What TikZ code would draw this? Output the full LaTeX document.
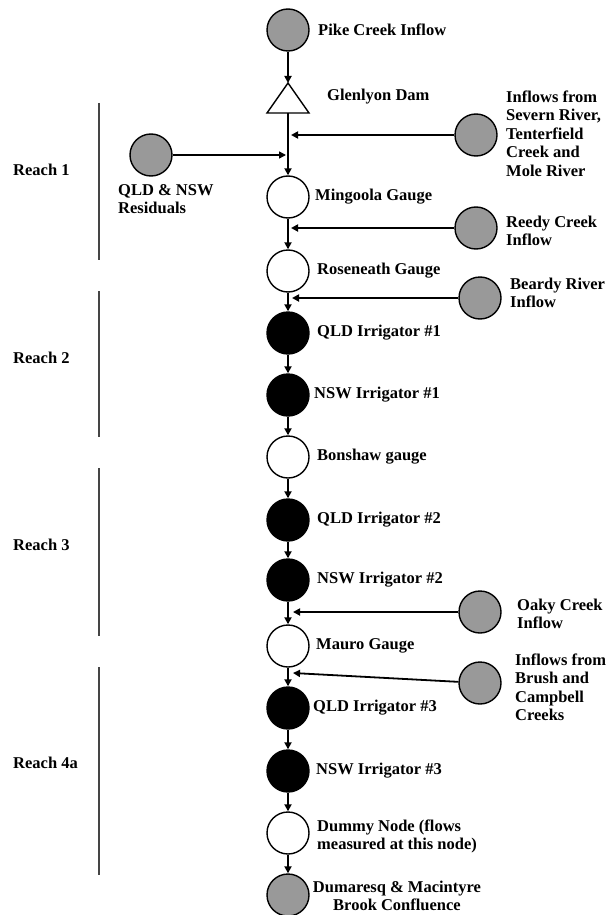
\documentclass[tikz,border=0pt]{standalone}
\usepackage{fontspec}
\setmainfont{Liberation Serif}
\usetikzlibrary{arrows.meta}
\definecolor{srcgray}{HTML}{999999}
\definecolor{reachgray}{HTML}{454545}

\begin{document}
\begin{tikzpicture}[x=1pt,y=-1pt,font=\bfseries\fontsize{16.5}{18.5}\selectfont,
  >={Triangle[length=7pt,width=7pt]},
  stn/.style={circle,draw,line width=1.4pt,minimum size=42pt,inner sep=0pt},
  flow/.style={->,line width=2pt},
  side/.style={->,line width=1.8pt},
  lab/.style={anchor=west,align=left,inner sep=0pt},
  reach/.style={reachgray,line width=1.6pt}]

\useasboundingbox (0,0) rectangle (608,915);

% ---- reaches (left bars) ----
\foreach \i/\ya/\yb/\yy/\txt in {1/103/260/170/Reach 1,2/291/437/358/Reach 2,
                                 3/468/636/545/Reach 3,4a/667/875/763/Reach 4a}{
  \draw[reach] (99,\ya) -- (99,\yb);
  \node[lab] (reach\i) at (13,\yy) {\txt};
}

% ---- top of the stem: Pike Creek and the dam ----
\node[stn,fill=srcgray] (pike) at (288,30) {};
\node[lab] (pike-lab) at (318,30) {Pike Creek Inflow};
\coordinate (glen-top) at (288,83);
\coordinate (glen-base) at (288,113);
\draw[line width=1.4pt,fill=white] (glen-top) -- (309,113) -- (267,113) -- cycle;
\node[lab] (glen-lab) at (327,97) {Glenlyon Dam};

% ---- main stem: gauges, irrigators, end node ----
\foreach \nm/\yy/\col in {mingoola/197/white,roseneath/271/white,qldi1/333/black,
    nswi1/395/black,bonshaw/457/white,qldi2/520/black,nswi2/580/black,
    mauro/646/white,qldi3/708/black,nswi3/771/black,dummy/833/white,dumaresq/895/srcgray}
  \node[stn,fill=\col] (\nm) at (288,\yy) {};

\foreach \nm/\xx/\yy/\txt in {mingoola/315/197/Mingoola Gauge,roseneath/317/271/Roseneath Gauge,
    qldi1/317/333/QLD Irrigator \#1,nswi1/314/395/NSW Irrigator \#1,
    bonshaw/317/457/Bonshaw gauge,qldi2/317/520/QLD Irrigator \#2,
    nswi2/317/580/NSW Irrigator \#2,mauro/316/646/Mauro Gauge,
    qldi3/313/708/QLD Irrigator \#3,nswi3/316/771/NSW Irrigator \#3}
  \node[lab] (\nm-lab) at (\xx,\yy) {\txt};
\node[lab] (dummy-lab) at (317,836.5) {Dummy Node (flows\\measured at this node)};
\node[lab,anchor=center,align=center] (dumaresq-lab) at (397,896)
   {Dumaresq \& Macintyre\\Brook Confluence};

% stem arrows
\draw[flow] (pike) -- (glen-top);
\draw[flow] (glen-base) -- (mingoola);
\foreach \a/\b in {mingoola/roseneath,roseneath/qldi1,qldi1/nswi1,nswi1/bonshaw,
    bonshaw/qldi2,qldi2/nswi2,nswi2/mauro,mauro/qldi3,qldi3/nswi3,nswi3/dummy,dummy/dumaresq}
  \draw[flow] (\a) -- (\b);

% ---- inflows from the sides ----
\foreach \nm/\xx/\yy in {severn/476/135,reedy/476/228,beardy/480/298,
                         oaky/480/612,brush/480/683,residuals/151/155}
  \node[stn,fill=srcgray] (\nm) at (\xx,\yy) {};

\node[lab] (severn-lab) at (506,133.5) {Inflows from\\Severn River,\\Tenterfield\\Creek and\\Mole River};
\node[lab] (reedy-lab) at (506,231) {Reedy Creek\\Inflow};
\node[lab] (beardy-lab) at (510,293) {Beardy River\\Inflow};
\node[lab] (oaky-lab) at (517,614) {Oaky Creek\\Inflow};
\node[lab] (brush-lab) at (515,687.5) {Inflows from\\Brush and\\Campbell\\Creeks};
\node[lab] (residuals-lab) at (118,199) {QLD \& NSW\\Residuals};

% junctions on the stem
\coordinate (j-severn) at (291,135);
\coordinate (j-reedy) at (291,228);
\coordinate (j-beardy) at (292,298);
\coordinate (j-oaky) at (293,612);
\coordinate (j-brush) at (293,673);
\coordinate (j-residuals) at (286,155);

\foreach \nm in {severn,reedy,beardy,oaky,brush}
  \draw[side] (\nm) -- (j-\nm);
\draw[->,line width=1.5pt] (residuals) -- (j-residuals);

\end{tikzpicture}
\end{document}
